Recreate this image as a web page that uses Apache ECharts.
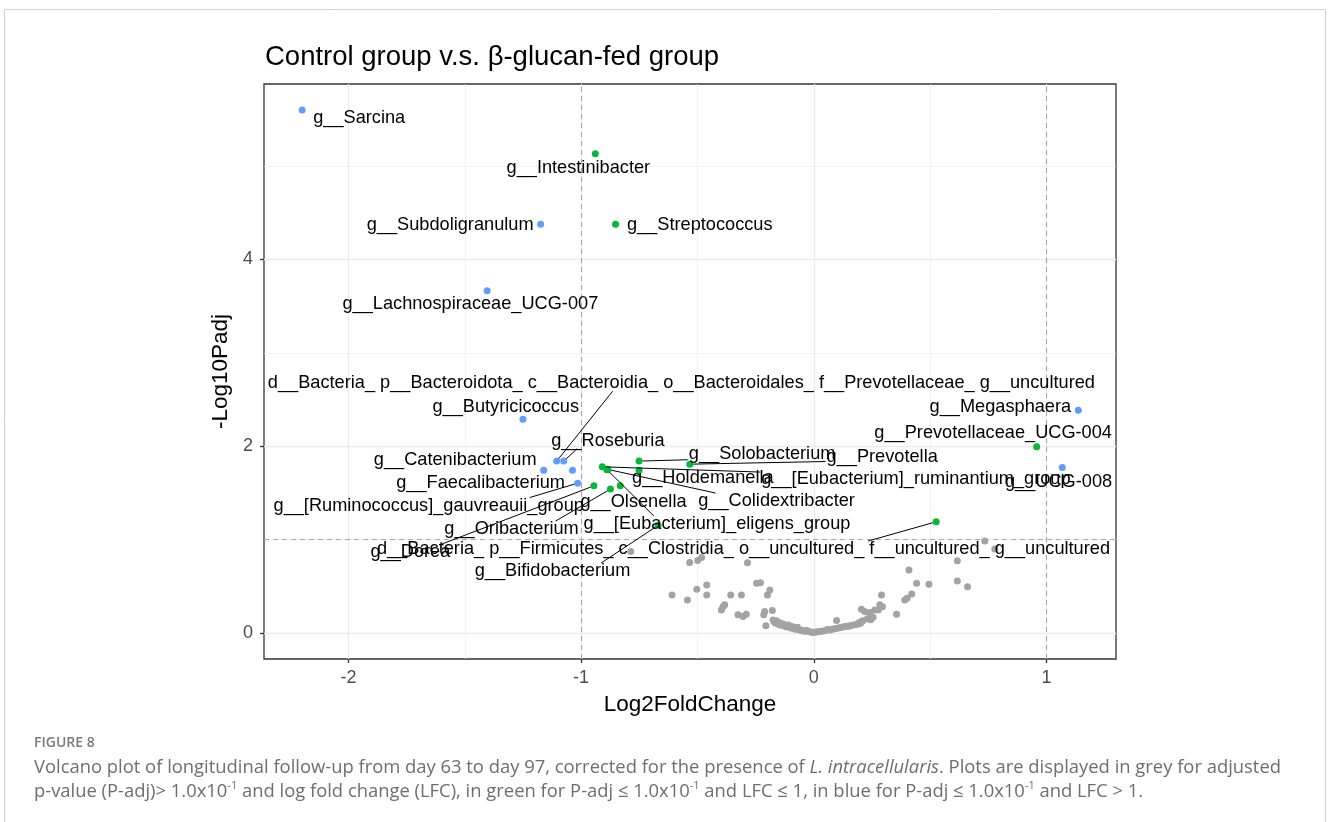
<!DOCTYPE html>
<html>
<head>
<meta charset="utf-8">
<title>Control group v.s. β-glucan-fed group</title>
<script src="https://cdn.jsdelivr.net/npm/echarts@6/dist/echarts.min.js"></script>
<style>
html, body { margin: 0; padding: 0; background: #fff; }
#chart { width: 1328px; height: 822px; }
</style>
</head>
<body>
<div id="chart"></div>
<script>
// not significant taxa (P-adj > 0.1)
var greyLfc = [
  -0.787, -0.533, -0.499, -0.482, -0.285, -0.609, -0.543, -0.503, -0.460, -0.460,
  -0.357, -0.311, -0.246, -0.229, -0.189, -0.199, -0.390, -0.397, -0.383, -0.326,
  -0.290, -0.304, -0.211, -0.215, -0.178, -0.175, -0.206,
  0.735, 0.778, 0.617, 0.409, 0.617, 0.661, 0.442, 0.495, 0.291, 0.421,
  0.391, 0.401, 0.356, 0.284, 0.277, 0.205, 0.219, 0.241, 0.255, 0.098,
  0.295, 0.262,
  -0.170, -0.165, -0.160, -0.155, -0.150, -0.145, -0.140, -0.133, -0.130, -0.125,
  -0.120, -0.115, -0.110, -0.105, -0.100, -0.095, -0.090, -0.085, -0.080, -0.075,
  -0.070, -0.065, -0.060, -0.050, -0.045, -0.035, -0.030, -0.020, -0.012, -0.005,
  0.003, 0.010, 0.018, 0.025, 0.035, 0.045, 0.055, 0.060, 0.070, 0.080,
  0.090, 0.100, 0.110, 0.120, 0.130, 0.140, 0.150, 0.160, 0.170, 0.180,
  0.190, 0.200, 0.195, 0.205, 0.210, 0.230, 0.245
];
var greyPadj = [
  0.872, 0.754, 0.775, 0.807, 0.752, 0.406, 0.353, 0.467, 0.513, 0.406,
  0.406, 0.406, 0.531, 0.538, 0.460, 0.406, 0.281, 0.246, 0.300, 0.193,
  0.200, 0.174, 0.228, 0.193, 0.239, 0.139, 0.075,
  0.984, 0.898, 0.773, 0.674, 0.556, 0.495, 0.531, 0.521, 0.406, 0.417,
  0.353, 0.371, 0.200, 0.300, 0.246, 0.253, 0.228, 0.217, 0.168, 0.132,
  0.281, 0.246,
  0.120, 0.105, 0.130, 0.095, 0.112, 0.085, 0.100, 0.095, 0.075, 0.088,
  0.065, 0.080, 0.085, 0.060, 0.070, 0.050, 0.065, 0.055, 0.040, 0.050,
  0.060, 0.035, 0.030, 0.028, 0.020, 0.018, 0.025, 0.012, 0.008, 0.004,
  0.006, 0.010, 0.012, 0.015, 0.018, 0.022, 0.028, 0.035, 0.032, 0.040,
  0.045, 0.050, 0.055, 0.060, 0.065, 0.070, 0.072, 0.080, 0.085, 0.090,
  0.095, 0.100, 0.110, 0.118, 0.130, 0.150, 0.140
];

// significant taxa, labelled
var taxa = [
  'g__Sarcina',
  'g__Intestinibacter',
  'g__Subdoligranulum',
  'g__Streptococcus',
  'g__Lachnospiraceae_UCG-007',
  'd__Bacteria_ p__Bacteroidota_ c__Bacteroidia_ o__Bacteroidales_ f__Prevotellaceae_ g__uncultured',
  'g__Butyricicoccus',
  'g__Megasphaera',
  'g__Roseburia',
  'g__Prevotellaceae_UCG-004',
  'g__Solobacterium',
  'g__Prevotella',
  'g__Catenibacterium',
  'g__Holdemanella',
  'g__[Eubacterium]_ruminantium_group',
  'g__UCG-008',
  'g__Faecalibacterium',
  'g__Colidextribacter',
  'g__[Ruminococcus]_gauvreauii_group',
  'g__Olsenella',
  'g__Oribacterium',
  'g__[Eubacterium]_eligens_group',
  'g__Dorea',
  'd__Bacteria_ p__Firmicutes_ c__Clostridia_ o__uncultured_ f__uncultured_ g__uncultured',
  'g__Bifidobacterium'
];
var taxaLfc = [
  -2.199, -0.939, -1.174, -0.852, -1.404, -1.105, -1.250, 1.137, -1.075, 0.958,
  -0.751, -0.533, -1.161, -0.751, -0.909, 1.068, -1.037, -0.885, -1.015, -0.832,
  -0.874, -0.889, -0.945, 0.526, -0.669
];
var taxaPadj = [
  5.601, 5.134, 4.378, 4.378, 3.665, 1.840, 2.289, 2.385, 1.840, 1.993,
  1.840, 1.807, 1.743, 1.743, 1.779, 1.772, 1.743, 1.751, 1.604, 1.575,
  1.540, 1.748, 1.575, 1.190, 1.152
];
// where the repelled labels sit (centre, in data units)
var labelLfc = [
  -1.954, -1.012, -1.563, -0.490, -1.476, -0.569, -1.324, 0.802, -0.885, 0.771,
  -0.222, 0.294, -1.541, -0.477, 0.439, 1.052, -1.432, -0.160, -1.655, -0.775,
  -1.299, -0.416, -1.734, -0.302, -1.123
];
var labelPadj = [
  5.517, 4.984, 4.374, 4.374, 3.519, 2.674, 2.420, 2.417, 2.059, 2.139,
  1.914, 1.888, 1.856, 1.658, 1.647, 1.615, 1.604, 1.412, 1.364, 1.401,
  1.112, 1.166, 0.866, 0.898, 0.663
];
var hasSegment = [
  false, false, false, false, false, true, false, false, true, false,
  true, true, false, false, true, false, false, true, true, false,
  true, true, true, true, true
];

var xTicks = [-2, -1, 0, 1];
var yTicks = [0, 2, 4];
var xMinor = [-1.5, -0.5, 0.5];
var yMinor = [1, 3, 5];
var lfcCut = [-1, 1];
var padjCut = 1;

var BLUE = '#619CFF';
var GREEN = '#00BA38';
var GREY = '#a3a3a3';
var plotFont = '"Liberation Sans", Arial, Helvetica, sans-serif';
var capFont = '"Open Sans", Lato, sans-serif';
var labelFont = '18.2px ' + plotFont;

var capLine1 = 'Volcano plot of longitudinal follow-up from day 63 to day 97, corrected for the presence of {i|L. intracellularis}. Plots are displayed in grey for adjusted';
var capLine2 = 'p-value (P-adj)> 1.0x10{s|-1} and log fold change (LFC), in green for P-adj ≤ 1.0x10{s|-1} and LFC ≤ 1, in blue for P-adj ≤ 1.0x10{s|-1} and LFC > 1.';

var chart = document.getElementById('chart');
var myChart = echarts.init(chart);

var measure = document.createElement('canvas').getContext('2d');

// caption font size chosen so that the first line spans the figure width
measure.font = '16px ' + capFont;
var capWidth16 = measure.measureText(capLine1.replace('{i|', '').replace('}', '')).width;
var capSize = Math.round(16 * 1256 / capWidth16 * 10) / 10;

measure.font = labelFont;

// end of a ggrepel-like segment on the label box
function segmentEnd(p, c, hw, hh) {
  var nx = Math.max(c[0] - hw, Math.min(p[0], c[0] + hw));
  var ny = Math.max(c[1] - hh, Math.min(p[1], c[1] + hh));
  var dx = p[0] - c[0], dy = p[1] - c[1];
  var t = Math.min(hw / Math.max(Math.abs(dx), 1e-6), hh / Math.max(Math.abs(dy), 1e-6));
  var ix = c[0] + dx * t, iy = c[1] + dy * t;
  return [(nx + ix) / 2, (ny + iy) / 2];
}

function renderLabel(params, api) {
  var i = params.dataIndex;
  var p = api.coord([taxaLfc[i], taxaPadj[i]]);
  var c = api.coord([labelLfc[i], labelPadj[i]]);
  var kids = [];
  if (hasSegment[i]) {
    var hw = measure.measureText(taxa[i]).width / 2 + 1;
    var e = segmentEnd(p, c, hw, 8);
    var dx = e[0] - p[0], dy = e[1] - p[1];
    var d = Math.sqrt(dx * dx + dy * dy) || 1;
    kids.push({
      type: 'line',
      shape: {x1: p[0] + dx / d * 3.5, y1: p[1] + dy / d * 3.5, x2: e[0], y2: e[1]},
      style: {stroke: '#000', lineWidth: 1}
    });
  }
  kids.push({
    type: 'text',
    x: c[0],
    y: c[1],
    style: {text: taxa[i], font: labelFont, fill: '#000', align: 'center', verticalAlign: 'middle'}
  });
  return {type: 'group', children: kids};
}

var gridLines = [];
xTicks.forEach(function (v) { gridLines.push({xAxis: v, lineStyle: {color: '#ebebeb', width: 1.3, type: 'solid'}}); });
xMinor.forEach(function (v) { gridLines.push({xAxis: v, lineStyle: {color: '#ededed', width: 0.7, type: 'solid'}}); });
yTicks.forEach(function (v) { gridLines.push({yAxis: v, lineStyle: {color: '#ebebeb', width: 1.3, type: 'solid'}}); });
yMinor.forEach(function (v) { gridLines.push({yAxis: v, lineStyle: {color: '#ededed', width: 0.7, type: 'solid'}}); });

var cutLines = [];
lfcCut.forEach(function (v) { cutLines.push({xAxis: v}); });
cutLines.push({yAxis: padjCut});

var option = {
  animation: false,
  backgroundColor: '#fff',
  title: {
    text: 'Control group v.s. β-glucan-fed group',
    left: 260,
    top: 38,
    textStyle: {fontFamily: plotFont, fontSize: 27.5, fontWeight: 'normal', color: '#000'}
  },
  grid: {
    left: 264,
    right: 212,
    top: 84,
    bottom: 163,
    show: true,
    borderColor: '#333',
    borderWidth: 1.3,
    backgroundColor: 'transparent'
  },
  xAxis: {
    type: 'value',
    min: -2.363,
    max: 1.299,
    name: 'Log2FoldChange',
    nameLocation: 'middle',
    nameGap: 34,
    nameTextStyle: {fontFamily: plotFont, fontSize: 22.5, color: '#000'},
    axisLine: {show: false, onZero: false},
    axisTick: {show: true, length: 4, customValues: xTicks, lineStyle: {color: '#333', width: 1.3}},
    axisLabel: {customValues: xTicks, margin: 10, fontFamily: plotFont, fontSize: 18, color: '#4d4d4d'},
    splitLine: {show: false}
  },
  yAxis: {
    type: 'value',
    min: -0.28,
    max: 5.88,
    name: '-Log10Padj',
    nameLocation: 'middle',
    nameGap: 28,
    nameTextStyle: {fontFamily: plotFont, fontSize: 22.5, color: '#000'},
    axisLine: {show: false, onZero: false},
    axisTick: {show: true, length: 4, customValues: yTicks, lineStyle: {color: '#333', width: 1.3}},
    axisLabel: {customValues: yTicks, margin: 11, fontFamily: plotFont, fontSize: 18, color: '#4d4d4d'},
    splitLine: {show: false}
  },
  series: [
    {
      name: 'grid',
      type: 'scatter',
      data: [],
      z: 0,
      silent: true,
      markLine: {
        z: 0,
        silent: true,
        symbol: ['none', 'none'],
        label: {show: false},
        emphasis: {disabled: true},
        data: gridLines
      }
    },
    {
      name: 'cutoff',
      type: 'scatter',
      data: [],
      z: 1,
      silent: true,
      markLine: {
        z: 1,
        silent: true,
        symbol: ['none', 'none'],
        label: {show: false},
        emphasis: {disabled: true},
        lineStyle: {color: '#a8a8a8', width: 1.1, type: [5, 4]},
        data: cutLines
      }
    },
    {
      name: 'not significant',
      type: 'scatter',
      z: 2,
      symbolSize: 7,
      itemStyle: {color: GREY, opacity: 1},
      data: greyLfc.map(function (v, i) { return [v, greyPadj[i]]; })
    },
    {
      name: 'significant',
      type: 'scatter',
      z: 3,
      symbolSize: 7,
      data: taxa.map(function (n, i) {
        return {
          name: n,
          value: [taxaLfc[i], taxaPadj[i]],
          itemStyle: {color: Math.abs(taxaLfc[i]) > lfcCut[1] ? BLUE : GREEN, opacity: 1}
        };
      })
    },
    {
      name: 'labels',
      type: 'custom',
      z: 6,
      silent: true,
      clip: false,
      renderItem: renderLabel,
      data: taxa.map(function (n, i) { return [labelLfc[i], labelPadj[i]]; })
    }
  ],
  graphic: [
    {
      type: 'rect',
      silent: true,
      shape: {x: 4.5, y: 9.5, width: 1321, height: 840},
      style: {fill: 'none', stroke: '#cfcfcf', lineWidth: 1}
    },
    {
      type: 'text',
      left: 34,
      top: 736,
      style: {text: 'FIGURE 8', font: '600 14px ' + capFont, fill: '#7a7a7a'}
    },
    {
      type: 'text',
      left: 34,
      top: 756,
      style: {
        text: capLine1 + '\n' + capLine2,
        fontFamily: capFont,
        fontSize: capSize,
        lineHeight: 24,
        fill: '#6e6e6e',
        rich: {
          i: {fontFamily: capFont, fontSize: capSize, fontStyle: 'italic', fill: '#6e6e6e', lineHeight: 24},
          s: {fontFamily: capFont, fontSize: 11, fill: '#6e6e6e', verticalAlign: 'top', lineHeight: 24}
        }
      }
    }
  ]
};
myChart.setOption(option);
</script>
</body>
</html>
